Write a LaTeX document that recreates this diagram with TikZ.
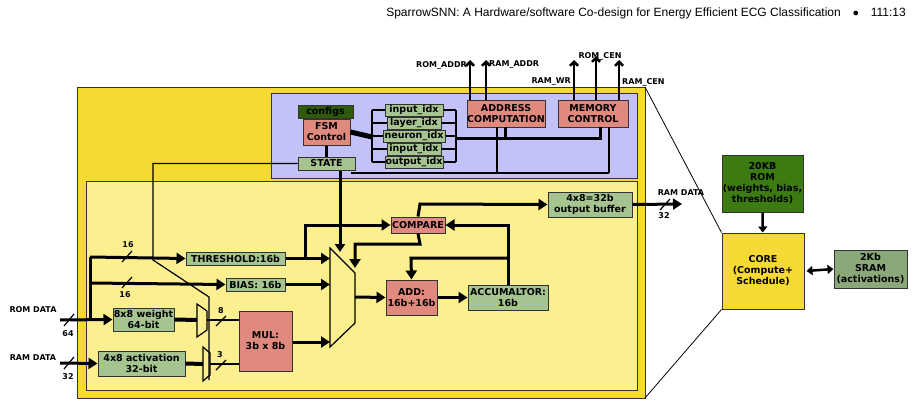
\documentclass[tikz,border=0pt]{standalone}
\usepackage{fontspec}
\setmainfont{DejaVu Sans}
\newfontfamily\hdrfont{Liberation Sans}
\usetikzlibrary{arrows.meta}
\definecolor{outery}{HTML}{F6D934}
\definecolor{innery}{HTML}{FCEF90}
\definecolor{blueb}{HTML}{C2C2F8}
\definecolor{redb}{HTML}{E0897F}
\definecolor{greenb}{HTML}{A5C48F}
\definecolor{dgreen}{HTML}{2E5A0C}
\definecolor{romg}{HTML}{3C7A12}
\definecolor{sramg}{HTML}{8BA87A}
\begin{document}
\begin{tikzpicture}[x=1pt,y=-1pt,
 every node/.style={font=\fontsize{9.5}{11}\selectfont\bfseries,align=center,inner sep=0pt},
 box/.style={draw=black!80,line width=1pt},
 thick arr/.style={line width=3pt,-{Triangle[length=9pt,width=11pt]}},
 thk/.style={line width=3pt},
 thin/.style={line width=1.2pt},
 lbl/.style={font=\fontsize{8}{9}\selectfont\bfseries}]
\useasboundingbox (0,0) rectangle (914,407);
\node[anchor=east,font=\hdrfont\fontsize{12}{14}\selectfont] (hdr) at (906,13) {SparrowSNN: A Hardware/software Co-design for Energy Efficient ECG Classification\quad$\bullet$\quad111:13};
% boxes
\path[box,fill=outery] (77,87) rectangle (645,398);
\path[box,fill=blueb] (271,93) rectangle (637,178);
\path[box,fill=innery] (86,181) rectangle (637,390);
% zoom lines
\coordinate (z1) at (645,87); \coordinate (z2) at (645,398);
\node[box,fill=romg,minimum width=81pt,minimum height=57pt] (rom) at (762.5,183.5) {20KB\\ROM\\(weights, bias,\\thresholds)};
\node[box,fill=outery,minimum width=82pt,minimum height=76pt] (core) at (763,271) {CORE\\(Compute+\\Schedule)};
\node[box,fill=sramg,minimum width=73pt,minimum height=38pt] (sram) at (870.5,269) {2Kb\\SRAM\\(activations)};
\draw[thin,line width=0.8pt] (z1) -- (core.north west) (z2) -- (core.south west);
\draw[line width=2.5pt,-{Triangle[length=6pt,width=9pt]}] (rom) -- (core);
\draw[line width=2.5pt,{Triangle[length=6pt,width=9pt]}-{Triangle[length=6pt,width=9pt]}] (core.east)++(2,0) coordinate(ce) (ce) -- (sram.west);
% top part
\node[box,fill=dgreen,minimum width=55pt,minimum height=13pt] (cfg) at (325.5,112) {configs};
\node[box,fill=redb,minimum width=47pt,minimum height=26pt] (fsm) at (326.5,132) {FSM\\Control};
\node[box,fill=greenb,minimum width=57pt,minimum height=13pt] (state) at (326.5,163.5) {STATE};
\foreach \n/\t/\y/\w in {i1/input\_idx/110/58,i2/layer\_idx/123/54,i3/neuron\_idx/136/62,i4/input\_idx/149/54,i5/output\_idx/162/58}{
 \node[box,fill=greenb,minimum width=\w pt,minimum height=12pt] (\n) at (414,\y) {\t};
 \draw[thin] (372,\y) -- (\n.west) (\n.east) -- (456,\y);}
\draw[thin] (372,110) -- (372,162) (456,110) -- (456,162);
\node[box,fill=redb,minimum width=78pt,minimum height=27pt] (addr) at (506,113.5) {ADDRESS\\COMPUTATION};
\node[box,fill=redb,minimum width=70pt,minimum height=27pt] (mem) at (593,113.5) {MEMORY\\CONTROL};
\draw[line width=5pt] (fsm.east) -- (372,137);
\draw[thk] (state.north) -- (fsm.south);
\draw[thk] (456,138) -- (600,138) -- (600,127);
\draw[thk] (505,138) -- (505,127);
\draw[thin] (497,127) -- (497,173) (609,127) -- (609,173) (351,173) -- (609,173);
\tikzset{up/.style={line width=2.5pt,-{Straight Barb[length=4pt,width=8pt]}}}
\coordinate (a1) at (470,60); \coordinate (a2) at (486,60);
\coordinate (m1) at (574,60); \coordinate (m2) at (596,56); \coordinate (m3) at (619,60);
\draw[up] (a1|-addr.north) -- (a1); \draw[up] (a2|-addr.north) -- (a2);
\draw[up] (m1|-mem.north) -- (m1); \draw[up] (m2|-mem.north) -- (m2); \draw[up] (m3|-mem.north) -- (m3);
\node[lbl,anchor=east] (l1) at (467,65) {ROM\_ADDR};
\node[lbl,anchor=west] (l2) at (489,65) {RAM\_ADDR};
\node[lbl,anchor=east] (l3) at (571,82) {RAM\_WR};
\node[lbl] (l4) at (600,56) {ROM\_CEN};
\node[lbl,anchor=west] (l5) at (622,82) {RAM\_CEN};
% datapath nodes
\node[box,fill=greenb,minimum width=99pt,minimum height=13pt] (thr) at (235.5,258.5) {THRESHOLD:16b};
\node[box,fill=greenb,minimum width=59pt,minimum height=13pt] (bias) at (255.5,284.5) {BIAS: 16b};
\node[box,fill=greenb,minimum width=61pt,minimum height=23pt] (wt) at (143.5,319.5) {8x8 weight\\64-bit};
\node[box,fill=greenb,minimum width=87pt,minimum height=25pt] (act) at (141.5,363.5) {4x8 activation\\32-bit};
\node[box,fill=redb,minimum width=53pt,minimum height=60pt] (mul) at (265.5,341) {MUL:\\3b x 8b};
\node[box,fill=redb,minimum width=54pt,minimum height=16pt] (cmp) at (418,225) {COMPARE};
\node[box,fill=greenb,minimum width=84pt,minimum height=25pt] (obuf) at (590,204.5) {4x8=32b\\output buffer};
\node[box,fill=redb,minimum width=51pt,minimum height=35pt] (add) at (411.5,297.5) {ADD:\\16b+16b};
\node[box,fill=greenb,minimum width=80pt,minimum height=25pt] (acc) at (508,297.5) {ACCUMALTOR:\\16b};
% muxes
\draw[thin,fill=innery] (330,248) -- (355,273) -- (355,323) -- (330,347) -- cycle;
\coordinate (bm) at (342.5,297);
\draw[thin,fill=innery] (197,304) -- (207,311) -- (207,330) -- (197,337) -- cycle;
\draw[thin,fill=innery] (203,347) -- (210,353) -- (210,375) -- (203,381) -- cycle;
\coordinate (wm) at (202,320); \coordinate (am) at (206.5,364);
% select lines
\draw[thin] (state.west) -- (153,163.5) -- (153,260) -- (209,297) -- (209,380);
\draw[thk,-{Triangle[length=8pt,width=10pt]}] (state.south-|340,0) -- (340,252);
% inputs
\node[lbl] (romd) at (33,310) {ROM DATA};
\node[lbl] (ramd) at (33,358) {RAM DATA};
\coordinate (ri) at (60,320); \coordinate (ai) at (60,363);
\draw[thick arr] (ri) -- (wt.west);
\draw[thick arr] (ai) -- (act.west);
\draw[thin] (64,326) -- (74,314) (64,369) -- (74,357);
\node[lbl] (n64) at (68,334) {64};
\node[lbl] (n32) at (68,377) {32};
\draw[thk] (90,320) -- (90,257);
\draw[thick arr] (90,257) -- (thr.west);
\draw[thick arr] (90,283) -- (bias.west);
\draw[thin] (122,262) -- (132,251) (122,288) -- (132,277);
\node[lbl] (n16a) at (128,245) {16};
\node[lbl] (n16b) at (125,295) {16};
\draw[line width=4pt] (wt.east) -- (197,320);
\draw[line width=4pt] (act.east) -- (203,364);
\draw[thin] (207,320) -- (mul.west|-0,320);
\draw[thin] (210,364) -- (mul.west|-0,364);
\draw[thin] (216,326) -- (226,316) (216,370) -- (226,360);
\node[lbl] (n8) at (221,311) {8};
\node[lbl] (n3) at (220,355) {3};
\draw[thick arr] (mul.east|-0,342) -- (330,342);
\draw[thick arr] (thr.east) -- (330,258.5);
\draw[thick arr] (bias.east) -- (330,284.5);
\draw[thick arr] (305,258.5) -- (305,225) -- (cmp.west);
\draw[thick arr] (cmp.north) -- (420,204) -- (obuf.west);
\draw[thick arr] (cmp.south) -- (420,244) -- (355,244) -- (355,268);
\draw[thick arr] (355,297) -- (add.west);
\draw[thick arr] (add.east) -- (acc.west);
\draw[thick arr] (acc.north) -- (508,225) -- (cmp.east);
\draw[thick arr] (508,258) -- (411,258) -- (add.north);
\draw[thick arr] (obuf.east) -- (682,204);
\draw[thin] (660,210) -- (670,199);
\node[lbl] (n32b) at (664,216) {32};
\node[lbl] (ramdo) at (681,193) {RAM DATA};
\end{tikzpicture}
\end{document}
